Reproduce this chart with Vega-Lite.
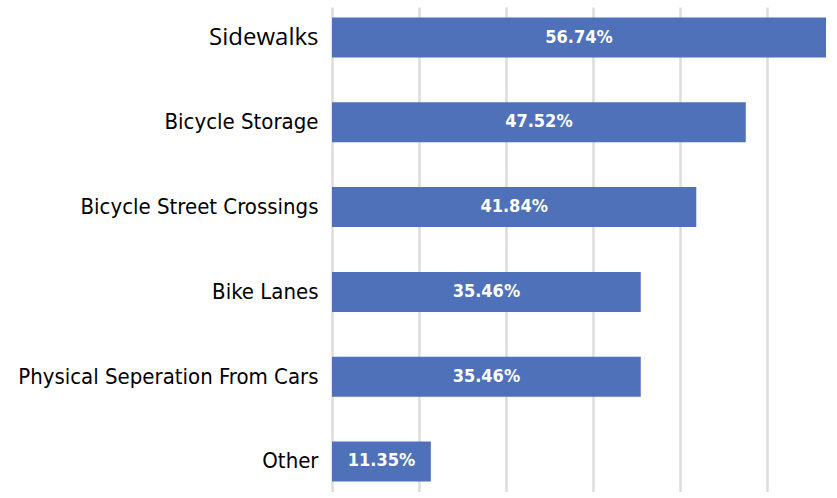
{
  "$schema": "https://vega.github.io/schema/vega-lite/v6.json",
  "autosize": {"type": "none"},
  "width": 505,
  "height": 485,
  "padding": {"left": 332, "top": 7, "right": 0, "bottom": 0},
  "background": "#ffffff",
  "config": {"view": {"stroke": null}},
  "data": {
    "values": [
      {"category": "Sidewalks", "value": 0.5674},
      {"category": "Bicycle Storage", "value": 0.4752},
      {"category": "Bicycle Street Crossings", "value": 0.4184},
      {"category": "Bike Lanes", "value": 0.3546},
      {"category": "Physical Seperation From Cars", "value": 0.3546},
      {"category": "Other", "value": 0.1135}
    ]
  },
  "encoding": {
    "y": {
      "field": "category",
      "type": "nominal",
      "sort": null,
      "scale": {"paddingInner": 0.528, "paddingOuter": 0.124},
      "axis": {
        "title": null,
        "domain": false,
        "ticks": false,
        "labelPadding": 14,
        "labelLimit": 400,
        "labelColor": "#000000",
        "labelFont": {"condition": {"test": "datum.value == 'Sidewalks'", "value": "Open Sans"}, "value": "DejaVu Sans Condensed"},
        "labelFontSize": {"condition": {"test": "datum.value == 'Sidewalks'", "value": 24}, "value": 22}
      }
    },
    "x": {
      "field": "value",
      "type": "quantitative",
      "scale": {"domain": [0, 0.58], "nice": false, "zero": true},
      "axis": {
        "title": null,
        "labels": false,
        "ticks": false,
        "domain": false,
        "values": [0, 0.1, 0.2, 0.3, 0.4, 0.5],
        "grid": true,
        "gridColor": "#DCDCDC",
        "gridWidth": 2.5
      }
    }
  },
  "layer": [
    {"mark": {"type": "bar", "color": "#4E71B9"}},
    {
      "mark": {
        "type": "text",
        "color": "#ffffff",
        "font": "DejaVu Sans Condensed",
        "fontWeight": "bold",
        "fontSize": 18,
        "align": "center",
        "baseline": "middle",
        "dx": {"expr": "-scale('x', datum.value) / 2"}
      },
      "encoding": {
        "text": {"field": "value", "type": "quantitative", "format": ".2%"}
      }
    }
  ]
}
